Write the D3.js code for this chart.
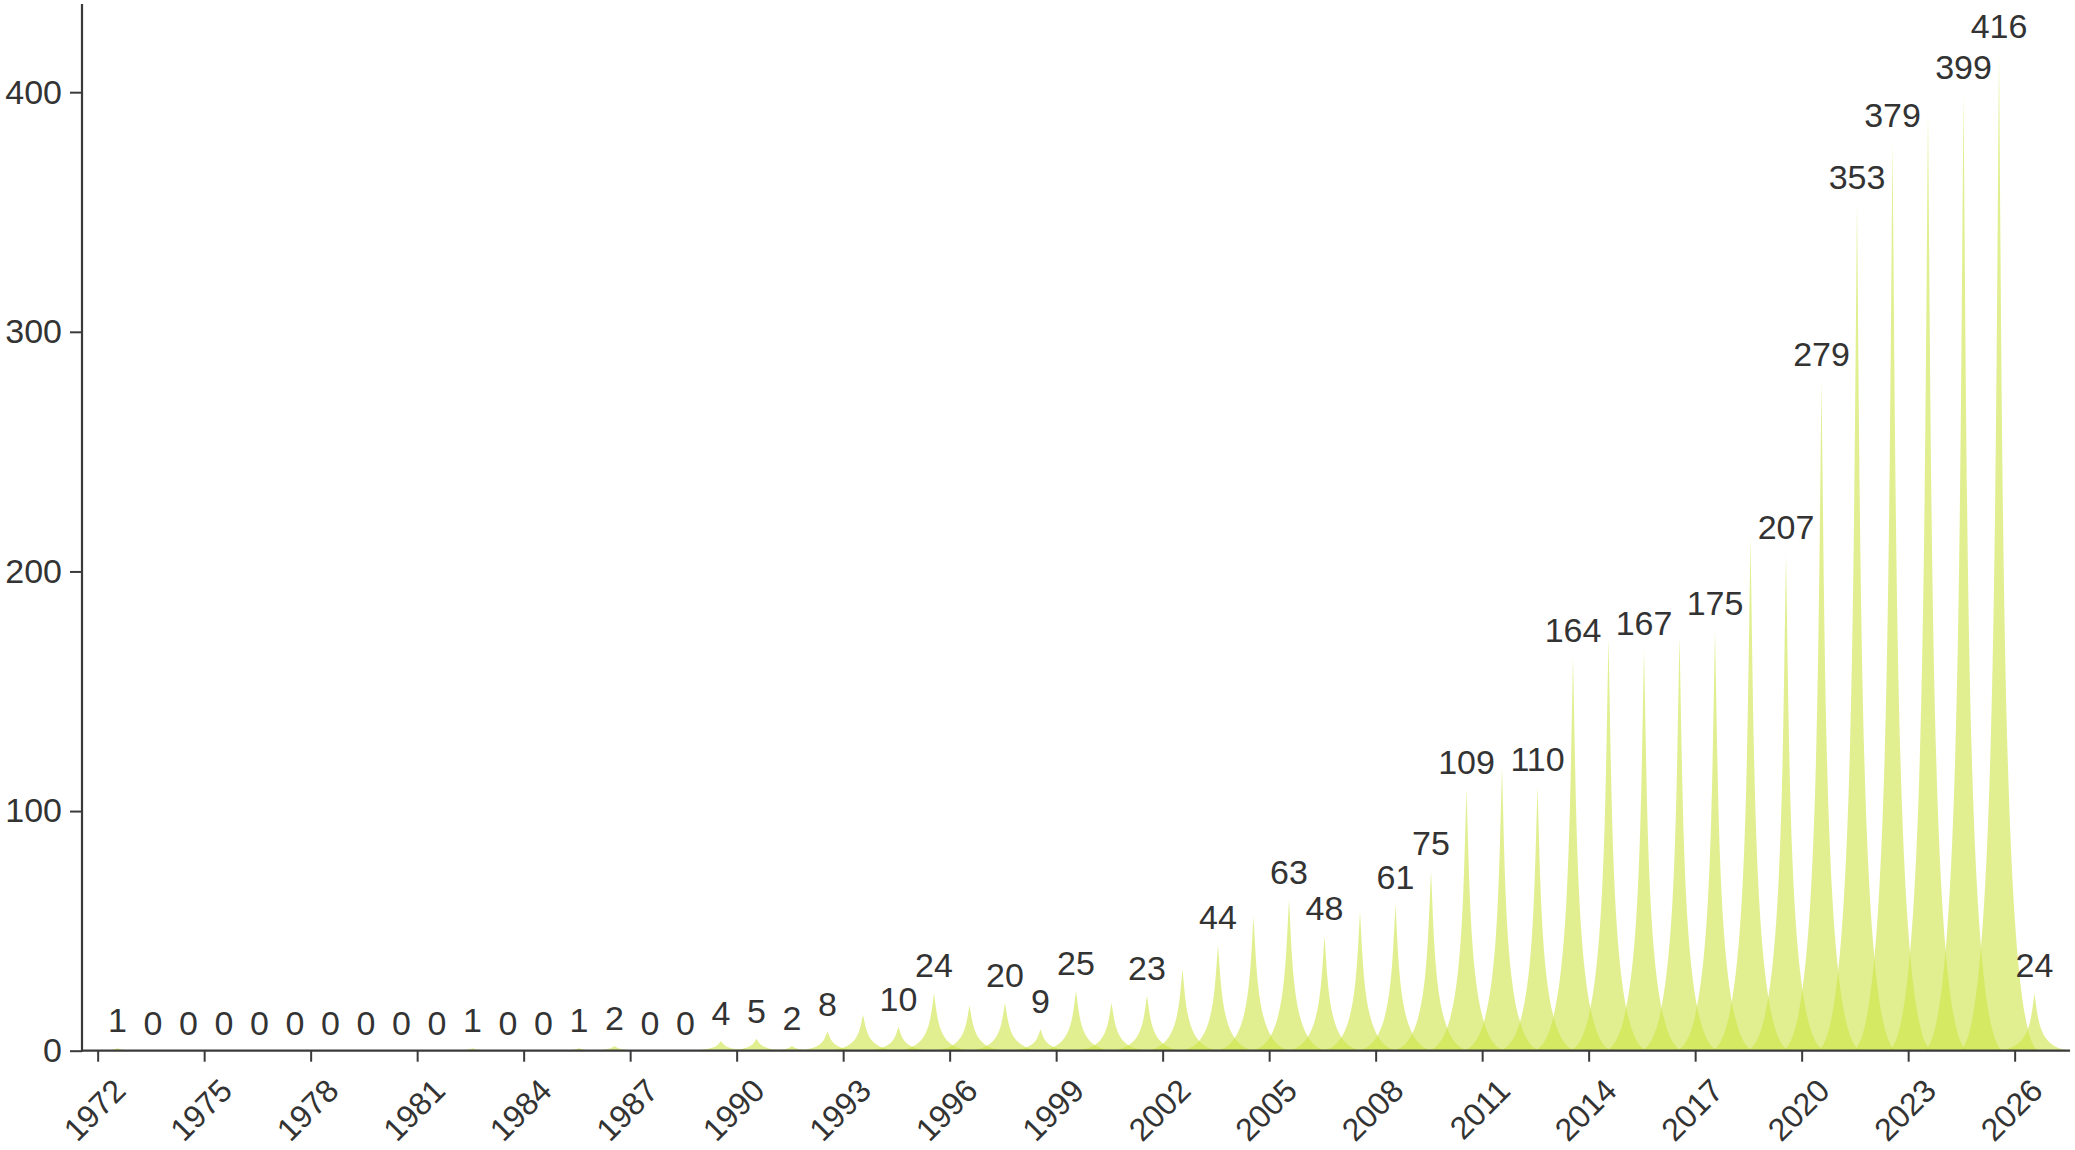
<!DOCTYPE html>
<html>
<head>
<meta charset="utf-8">
<script src="https://cdn.jsdelivr.net/npm/d3@7"></script>
<style>
  html, body { margin: 0; padding: 0; background: #ffffff; }
  svg { display: block; }
  text { font-family: "Liberation Sans", Arial, sans-serif; fill: #333333; }
</style>
</head>
<body>
<svg id="chart" width="2075" height="1150"></svg>
<script>
// ---- data ----
const years = d3.range(1972, 2027);
const counts = [
  1, 0, 0, 0, 0, 0, 0, 0, 0, 0,      // 1972-1981
  1, 0, 0, 1, 2, 0, 0, 4, 5, 2,      // 1982-1991
  8, 15, 10, 24, 19, 20, 9, 25, 20, 23, // 1992-2001
  34, 44, 56, 63, 48, 58, 61, 75, 109, 118, // 2002-2011
  110, 164, 172, 167, 173, 175, 214, 207, 279, 353, // 2012-2021
  379, 392, 399, 416, 24             // 2022-2026
];
const tickYears = d3.range(1972, 2027, 3);
const yTickValues = [0, 100, 200, 300, 400];
const hiddenLabelYears = [1993, 1996, 2000, 2002, 2004, 2007, 2011, 2014, 2016, 2018, 2023];

const data = years.map((yr, i) => ({ year: yr, value: counts[i] }));

// ---- layout ----
const svg = d3.select("#chart");
const x0 = 82, x1 = 2070, yBase = 1050.7, yTop = 4;
const axisColor = "#3a3a3a";
const fontSize = 34;
const tickFontSize = 32;

const x = d3.scaleBand().domain(years).range([x0, x1]).paddingInner(0).paddingOuter(0.5);
const y = d3.scaleLinear().domain([0, d3.max(counts) * 1.05]).range([yBase, yTop]);
const step = x.step();
const cx = yr => x(yr) + x.bandwidth() / 2;

// spike shape (pictorial spike) in a 10x10 box
const halfW = step * 1.15;
function spikePath(d) {
  const c = cx(d.year), top = y(d.value), base = y(0);
  const mx = px => c - halfW + px * (2 * halfW / 10);
  const my = py => top + py * (base - top) / 10;
  const p = d3.path();
  p.moveTo(mx(0), my(10));
  p.lineTo(mx(10), my(10));
  p.bezierCurveTo(mx(5.5), my(10), mx(5.5), my(5), mx(5), my(0));
  p.bezierCurveTo(mx(4.5), my(5), mx(4.5), my(10), mx(0), my(10));
  p.closePath();
  return p.toString();
}

svg.append("g").selectAll("path")
  .data(data.filter(d => d.value > 0))
  .join("path")
  .attr("d", spikePath)
  .attr("fill", "rgb(205,228,70)")
  .attr("fill-opacity", 0.6);

// value labels
svg.append("g").selectAll("text")
  .data(data.filter(d => !hiddenLabelYears.includes(d.year)))
  .join("text")
  .attr("x", d => cx(d.year))
  .attr("y", d => y(d.value) - 16)
  .attr("text-anchor", "middle")
  .attr("font-size", fontSize)
  .text(d => d.value);

// y axis
const yAxis = svg.append("g").attr("transform", `translate(${x0},0)`)
  .call(d3.axisLeft(y).tickValues(yTickValues).tickSize(12).tickPadding(8).tickSizeOuter(0));
yAxis.select(".domain").remove();
yAxis.selectAll(".tick line").attr("stroke", axisColor).attr("stroke-width", 2);
yAxis.selectAll(".tick text").attr("font-size", fontSize).attr("font-family", "Liberation Sans, Arial, sans-serif").attr("fill", "#333");
svg.append("line").attr("x1", x0).attr("x2", x0).attr("y1", yTop).attr("y2", yBase + 1)
  .attr("stroke", axisColor).attr("stroke-width", 2.2);

// x axis
svg.append("line").attr("x1", x0).attr("x2", x1).attr("y1", yBase).attr("y2", yBase)
  .attr("stroke", axisColor).attr("stroke-width", 2.2);
const xt = svg.append("g").selectAll("g").data(tickYears).join("g");
xt.append("line")
  .attr("x1", d => cx(d) - 0.545 * step).attr("x2", d => cx(d) - 0.545 * step)
  .attr("y1", yBase).attr("y2", yBase + 11)
  .attr("stroke", axisColor).attr("stroke-width", 2);
xt.append("text")
  .attr("transform", d => `translate(${cx(d) + 10},${yBase + 42}) rotate(-45)`)
  .attr("text-anchor", "end")
  .attr("font-size", tickFontSize)
  .text(d => d);
</script>
</body>
</html>
